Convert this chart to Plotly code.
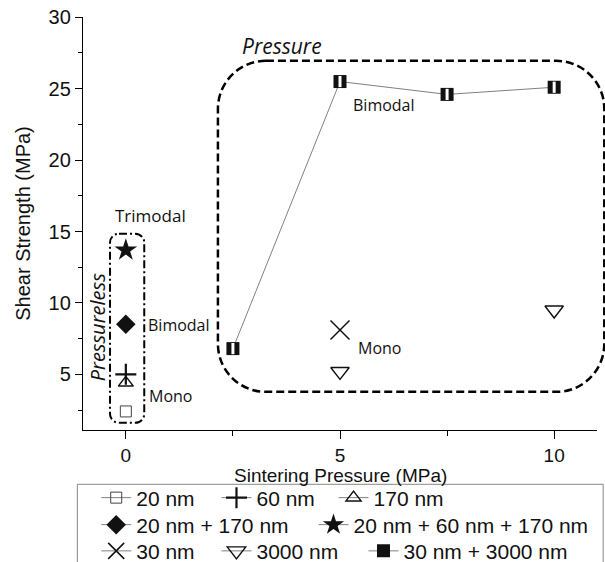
import plotly.graph_objects as go

# Shear strength of sintered joints vs. sintering pressure
pressure_pl = [0]                     # pressureless samples (MPa)
s_20nm = [2.4]
s_60nm = [5.0]
s_170nm = [4.4]
s_20_170 = [8.5]
s_20_60_170 = [13.7]

pressure_30nm = [5]
s_30nm = [8.1]
pressure_3000nm = [5, 10]
s_3000nm = [5.2, 9.5]
pressure_bimodal = [2.5, 5, 7.5, 10]
s_bimodal = [6.8, 25.5, 24.6, 25.1]

x_ticks = [0, 5, 10]
y_ticks = [5, 10, 15, 20, 25, 30]

X_RANGE = [-1, 11]
Y_RANGE = [1.1, 30.02]
W, H = 605, 562
M = dict(l=83, r=8, t=17, b=132, autoexpand=False)
PW = W - M["l"] - M["r"]
PH = H - M["t"] - M["b"]

LINE_GREY = "#808080"
INK = "#111111"


def to_paper(x, y):
    px = (x - X_RANGE[0]) / (X_RANGE[1] - X_RANGE[0])
    py = (y - Y_RANGE[0]) / (Y_RANGE[1] - Y_RANGE[0])
    return px, py


def rounded_rect(xa, xb, ya, yb, r_px):
    """SVG path of a rounded rectangle in paper coordinates."""
    x0, y0 = to_paper(xa, ya)
    x1, y1 = to_paper(xb, yb)
    rx, ry = r_px / PW, r_px / PH
    k = 0.5523
    return (
        f"M{x0+rx},{y1} L{x1-rx},{y1} "
        f"C{x1-rx+k*rx},{y1} {x1},{y1-ry+k*ry} {x1},{y1-ry} "
        f"L{x1},{y0+ry} "
        f"C{x1},{y0+ry-k*ry} {x1-rx+k*rx},{y0} {x1-rx},{y0} "
        f"L{x0+rx},{y0} "
        f"C{x0+rx-k*rx},{y0} {x0},{y0+ry-k*ry} {x0},{y0+ry} "
        f"L{x0},{y1-ry} "
        f"C{x0},{y1-ry+k*ry} {x0+rx-k*rx},{y1} {x0+rx},{y1} Z"
    )


# legend slots: (paper x of the entry, paper y of its row)
ROW_Y = [-0.1646, -0.230, -0.2935]
LEGEND_SLOTS = {
    "legend":  (0.0257, ROW_Y[0]),
    "legend2": (0.2597, ROW_Y[0]),
    "legend3": (0.4874, ROW_Y[0]),
    "legend4": (0.0257, ROW_Y[1]),
    "legend5": (0.4484, ROW_Y[1]),
    "legend6": (0.0257, ROW_Y[2]),
    "legend7": (0.2597, ROW_Y[2]),
    "legend8": (0.5457, ROW_Y[2]),
}

series = [
    # name, x, y, marker, legend slot, connect points
    ("20 nm", pressure_pl, s_20nm,
     dict(symbol="square-open", size=11, color="#444", line=dict(width=1)), "legend", False),
    ("60 nm", pressure_pl, s_60nm,
     dict(symbol="cross-thin-open", size=15, color=INK, line=dict(width=2.2)), "legend2", False),
    ("170 nm", pressure_pl, s_170nm,
     dict(symbol="triangle-up-open", size=13, color=INK, line=dict(width=1.5)), "legend3", False),
    ("20 nm + 170 nm", pressure_pl, s_20_170,
     dict(symbol="diamond", size=15, color=INK, line=dict(width=0)), "legend4", False),
    ("20 nm + 60 nm + 170 nm", pressure_pl, s_20_60_170,
     dict(symbol="star", size=17, color=INK, line=dict(width=0)), "legend5", False),
    ("30 nm", pressure_30nm, s_30nm,
     dict(symbol="x-thin-open", size=19, color=INK, line=dict(width=1.5)), "legend6", False),
    ("3000 nm", pressure_3000nm, s_3000nm,
     dict(symbol="triangle-down-open", size=16, color=INK, line=dict(width=1.4)), "legend7", False),
    ("30 nm + 3000 nm", pressure_bimodal, s_bimodal,
     dict(symbol="square", size=13, color=INK, line=dict(width=0)), "legend8", True),
]

fig = go.Figure()

for name, xs, ys, marker, leg, connect in series:
    fig.add_trace(go.Scatter(
        x=xs, y=ys, mode="lines+markers" if connect else "markers",
        line=dict(color=LINE_GREY, width=1), marker=marker,
        name=name, legendgroup=name, showlegend=False, cliponaxis=False,
    ))
    if name == "30 nm + 3000 nm":
        # white slit that makes the square look half filled
        fig.add_trace(go.Scatter(
            x=xs, y=ys, mode="markers", hoverinfo="skip",
            marker=dict(symbol="line-ns-open", size=8, color="white",
                        line=dict(width=3, color="white")),
            legendgroup=name, showlegend=False, cliponaxis=False,
        ))
    # legend entry: line through the marker
    fig.add_trace(go.Scatter(
        x=[None], y=[None], mode="lines+markers",
        line=dict(color=LINE_GREY, width=1), marker=marker,
        name=name, legendgroup=name, legend=leg, showlegend=True,
    ))

axis_font = dict(family="Liberation Sans, Arial", size=20, color="#111")
xtitle_font = dict(family="Liberation Sans, Arial", size=19, color="#111")
label_font = dict(family="Open Sans", size=16, color="#111")

fig.update_xaxes(
    range=X_RANGE, tickvals=x_ticks, ticks="outside", ticklen=8, tickwidth=1.3,
    tickcolor="black", showline=True, linecolor="black", linewidth=1.3,
    showgrid=False, zeroline=False, automargin=False,
    tickfont=dict(family="Liberation Sans, Arial", size=19, color="#111"),
    minor=dict(dtick=2.5, tick0=0, ticks="outside", ticklen=5, tickwidth=1.3,
               tickcolor="black", showgrid=False),
)
fig.update_yaxes(
    range=Y_RANGE, tickvals=y_ticks, ticks="outside", ticklen=7, tickwidth=1.3,
    tickcolor="black", showline=True, linecolor="black", linewidth=1.3,
    showgrid=False, zeroline=False, tickfont=axis_font, automargin=False,
    minor=dict(dtick=2.5, tick0=0, ticks="outside", ticklen=4, tickwidth=1.3,
               tickcolor="black", showgrid=False),
    title=dict(text="Shear Strength (MPa)", font=axis_font, standoff=12),
)

shapes = [
    dict(type="path", xref="paper", yref="paper",
         path=rounded_rect(2.15, 11.17, 3.77, 26.95, 48),
         line=dict(color="black", width=2.5, dash="8px,4px")),
    dict(type="path", xref="paper", yref="paper",
         path=rounded_rect(-0.37, 0.43, 1.6, 14.85, 9),
         line=dict(color="black", width=2, dash="8px,3px,2px,3px")),
    # legend frame
    dict(type="rect", xref="paper", yref="paper",
         x0=-0.011, x1=1.012, y0=-0.34, y1=-0.1315,
         line=dict(color="#888", width=1)),
]

annotations = [
    # x-axis title, set tight against the legend frame
    dict(x=0.5, y=-0.1113, xref="paper", yref="paper", yanchor="middle", borderpad=0,
         text="Sintering Pressure (MPa)", showarrow=False, font=xtitle_font),
    dict(x=0.58, y=16.13, text="Trimodal", showarrow=False,
         font=dict(family="Open Sans", size=17, color="#111")),
    dict(x=0.48, y=8.43, text="Bimodal", showarrow=False, xanchor="left", font=label_font),
    dict(x=0.50, y=3.46, text="Mono", showarrow=False, xanchor="left", font=label_font),
    dict(x=5.25, y=23.83, text="Bimodal", showarrow=False, xanchor="left", font=label_font),
    dict(x=5.38, y=6.82, text="Mono", showarrow=False, xanchor="left", font=label_font),
    dict(x=2.66, y=28.0, text="<i>Pressure</i>", showarrow=False, xanchor="left",
         font=dict(family="Open Sans", size=21, color="#111")),
    dict(x=-0.66, y=8.26, text="<i>Pressureless</i>", showarrow=False, textangle=-90,
         font=dict(family="Open Sans", size=20, color="#111")),
]

legend_style = dict(orientation="h", xanchor="left", yanchor="middle",
                    bgcolor="rgba(0,0,0,0)", borderwidth=0,
                    font=dict(family="Liberation Sans, Arial", size=21, color="#111"),
                    itemclick=False, itemdoubleclick=False)

legends = {key: dict(x=lx, y=ly, **legend_style) for key, (lx, ly) in LEGEND_SLOTS.items()}

fig.update_layout(
    width=W, height=H, margin=M,
    paper_bgcolor="white", plot_bgcolor="white",
    shapes=shapes, annotations=annotations,
    **legends,
)

fig.write_html("out.html")
